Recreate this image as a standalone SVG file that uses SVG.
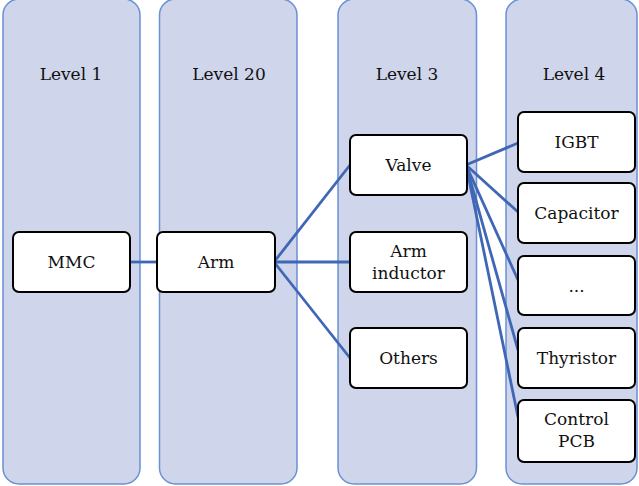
<svg xmlns="http://www.w3.org/2000/svg" width="639" height="486" viewBox="0 0 639 486">
<style>
.col{fill:#CFD5EA;stroke:#6B90D4;stroke-width:1.5}
.node{fill:#fff;stroke:#000;stroke-width:2}
.t{font-family:DejaVu Serif, serif;font-size:17px;fill:#111;text-anchor:middle}
.con{stroke:#3F67B6;stroke-width:2.8;fill:none}
</style>
<g id="columns">
<g id="col1"><rect class="col" x="3" y="-1" width="137" height="485" rx="16"/><text class="t" x="71" y="80">Level 1</text></g>
<g id="col2"><rect class="col" x="159.5" y="-1" width="137.5" height="485" rx="16"/><text class="t" x="229" y="80">Level 20</text></g>
<g id="col3"><rect class="col" x="338" y="-1" width="138.5" height="485" rx="16"/><text class="t" x="407" y="80">Level 3</text></g>
<g id="col4"><rect class="col" x="506" y="-1" width="131" height="485" rx="16"/><text class="t" x="574" y="80">Level 4</text></g>
</g>
<g id="connectors">
<line class="con" x1="130" y1="262" x2="157" y2="262"/>
<line class="con" x1="274" y1="262" x2="350" y2="165"/>
<line class="con" x1="274" y1="262" x2="350" y2="262"/>
<line class="con" x1="274" y1="262" x2="350" y2="358"/>
<line class="con" x1="466" y1="165" x2="518" y2="143"/>
<line class="con" x1="466" y1="165" x2="518" y2="212"/>
<line class="con" x1="466" y1="165" x2="518" y2="280"/>
<line class="con" x1="466" y1="165" x2="518" y2="350"/>
<line class="con" x1="466" y1="165" x2="518" y2="417"/>
</g>
<g id="nodes">
<g id="mmc"><rect class="node" x="13" y="232" width="117" height="60" rx="6"/><text class="t" x="71.5" y="268">MMC</text></g>
<g id="arm"><rect class="node" x="157" y="232" width="118" height="60" rx="6"/><text class="t" x="216" y="268">Arm</text></g>
<g id="valve"><rect class="node" x="350" y="135" width="117" height="60" rx="6"/><text class="t" x="408.5" y="171">Valve</text></g>
<g id="arm-inductor"><rect class="node" x="350" y="232" width="117" height="60" rx="6"/><text class="t" x="408.5" y="257">Arm</text><text class="t" x="408.5" y="279">inductor</text></g>
<g id="others"><rect class="node" x="350" y="328" width="117" height="60" rx="6"/><text class="t" x="408.5" y="364">Others</text></g>
<g id="igbt"><rect class="node" x="518" y="112" width="117" height="60" rx="6"/><text class="t" x="576.5" y="148">IGBT</text></g>
<g id="capacitor"><rect class="node" x="518" y="183" width="117" height="60" rx="6"/><text class="t" x="576.5" y="219">Capacitor</text></g>
<g id="ellipsis"><rect class="node" x="518" y="256" width="117" height="59" rx="6"/><text class="t" x="576.5" y="292">...</text></g>
<g id="thyristor"><rect class="node" x="518" y="328" width="117" height="60" rx="6"/><text class="t" x="576.5" y="364">Thyristor</text></g>
<g id="control-pcb"><rect class="node" x="518" y="400" width="117" height="62" rx="6"/><text class="t" x="576.5" y="425">Control</text><text class="t" x="576.5" y="447">PCB</text></g>
</g>
</svg>
